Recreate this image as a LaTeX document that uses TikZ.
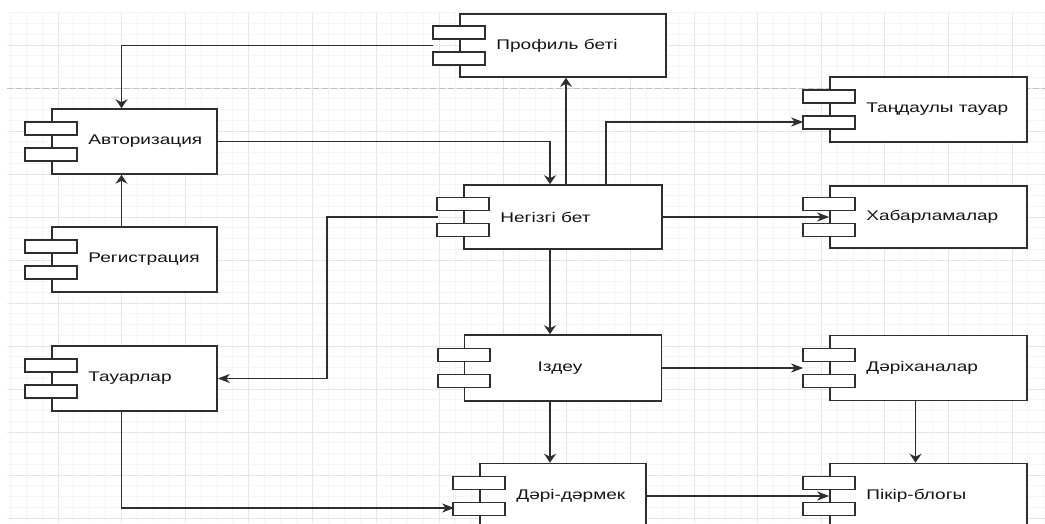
\documentclass[tikz,border=0pt]{standalone}
\usepackage{fontspec}
\setmainfont{Liberation Sans}[FakeStretch=1.36]
\usetikzlibrary{arrows.meta,calc}
\definecolor{linecol}{HTML}{2E2E2E}
\definecolor{textcol}{HTML}{151515}
\definecolor{minorcol}{HTML}{F5F5F5}
\definecolor{majorcol}{HTML}{E6E6E6}
\definecolor{breakcol}{HTML}{C0C0C0}
\tikzset{
  component/.style = {draw=linecol, line width=1.6pt, fill=white, minimum width=197pt, minimum height=65pt, inner sep=0pt},
  bar/.style = {draw=linecol, line width=1.6pt, fill=white},
  conn/.style = {draw=linecol, line width=1.6pt},
  harr/.style = {-{Stealth[length=12pt,width=9pt,inset=3.5pt]}},
  varr/.style = {-{Stealth[length=9pt,width=12pt,inset=3pt]}},
  every label/.style = {inner sep=0pt, text=textcol, font=\fontsize{14}{16}\selectfont},
  txt/.style = {label={[anchor=west,xshift=37pt]west:#1}},
  minorgrid/.style = {draw=minorcol, line width=1pt},
  majorgrid/.style = {draw=majorcol, line width=1pt},
  pagebreak/.style = {draw=breakcol, line width=1pt, dash pattern=on 6pt off 3pt},
}

\begin{document}
\begin{tikzpicture}[x=1pt,y=-1pt]
\useasboundingbox (0,0) rectangle (1045,523);
\clip (0,0) rectangle (1045,523);
\fill[white] (0,0) rectangle (1045,523);
\foreach \k in {-3,...,62}{
  \pgfmathsetmacro\gx{58+15.9*\k}
  \pgfmathtruncatemacro\gm{mod(\k+400,4)}
  \ifnum\gm=0 \draw[majorgrid] (\gx,12.75) -- (\gx,523); \else \draw[minorgrid] (\gx,12.75) -- (\gx,523); \fi
}
\foreach \k in {-3,...,44}{
  \pgfmathsetmacro\gy{45+10.75*\k}
  \pgfmathtruncatemacro\gm{mod(\k+400,4)}
  \ifnum\gm=0 \draw[majorgrid] (7,\gy) -- (1045,\gy); \else \draw[minorgrid] (7,\gy) -- (1045,\gy); \fi
}
\draw[pagebreak] (7,88) -- (1045,88);

\node[component, minimum width=165pt, txt=Авторизация] (auth) at (134.5,141.5) {};
\node[component, minimum width=165pt, txt=Регистрация] (reg) at (134.5,259.5) {};
\node[component, minimum width=165pt, txt=Тауарлар] (goods) at (134.5,378.5) {};
\node[component, minimum width=206pt, minimum height=63pt, txt=Профиль беті] (prof) at (563,45.5) {};
\node[component, minimum width=198pt, minimum height=64pt, txt=Негізгі бет] (main) at (563,217) {};
\node[component, minimum height=66pt, label={[xshift=-3pt]center:Іздеу}] (search) at (563,368) {};
\node[component, minimum width=166pt, txt=Дәрі-дәрмек] (drug) at (563,496) {};
\node[component, txt=Таңдаулы тауар] (fav) at (928.5,109.5) {};
\node[component, minimum height=62pt, txt=Хабарламалар] (msg) at (928.5,217) {};
\node[component, txt=Дәріханалар] (pharm) at (928.5,368) {};
\node[component, txt=Пікір-блогы] (blog) at (928.5,496) {};
\foreach \n in {auth,reg,goods,prof,main,search,drug,fav,msg,pharm,blog}
  \draw[bar] ($(\n.west)+(-26,-19.5)$) rectangle ++(52,13) ($(\n.west)+(-26,6.5)$) rectangle ++(52,13);

\draw[conn,varr] ($(prof.west)+(-26,0)$) -| ($(auth.north)+(-13,0)$);
\draw[conn,varr] (auth.east) -| ($(main.north)+(-13,0)$);
\draw[conn,varr] ($(main.north)+(3,0)$) -- ($(prof.south)+(3,0)$);
\draw[conn,harr] ($(main.north)+(43,0)$) |- ($(fav.west)+(-26,12.5)$);
\draw[conn,harr] (main.east) -- (msg.west);
\draw[conn,varr] ($(reg.north)+(-13,0)$) -- ($(auth.south)+(-13,0)$);
\draw[conn,harr] ($(main.west)+(-25,0)$) -- ++(-111,0) |- (goods.east);
\draw[conn,varr] ($(main.south)+(-13,0)$) -- ($(search.north)+(-13,0)$);
\draw[conn,harr] (search.east) -- ($(pharm.west)+(-26,0)$);
\draw[conn,varr] ($(search.south)+(-13,0)$) -- ($(drug.north)+(-13,0)$);
\draw[conn,harr] ($(goods.south)+(-13,0)$) |- ($(drug.west)+(-25,12)$);
\draw[conn,harr] (drug.east) -- (blog.west);
\draw[conn,varr] ($(pharm.south)+(-13,0)$) -- ($(blog.north)+(-13,0)$);
\end{tikzpicture}
\end{document}
